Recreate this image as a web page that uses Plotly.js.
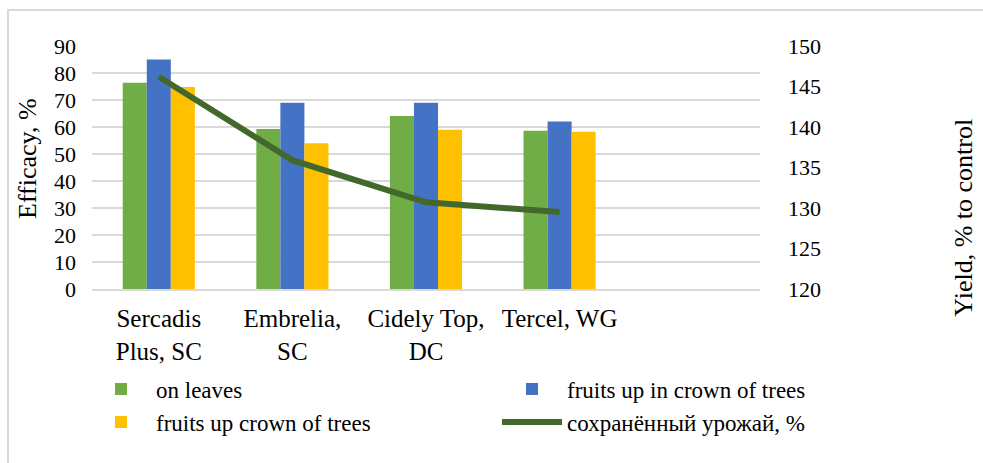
<!DOCTYPE html>
<html>
<head>
<meta charset="utf-8">
<script src="https://cdn.plot.ly/plotly-3.0.1.min.js"></script>
<style>
  html, body { margin: 0; padding: 0; background: #fff; }
  #wrap { position: relative; width: 983px; height: 463px; overflow: hidden; }
  #chart { width: 983px; height: 463px; }
  #frame { position: absolute; left: 7px; top: 9px; width: 1000px; height: 500px;
           border: 2px solid #d9d9d9; pointer-events: none; box-sizing: border-box; }
</style>
</head>
<body>
<div id="wrap">
  <div id="chart"></div>
  <div id="frame"></div>
</div>
<script>
// ---- data ----
const categories = ["Sercadis<br>Plus, SC", "Embrelia,<br>SC", "Cidely Top,<br>DC", "Tercel, WG"];
const onLeaves = [76.4, 59.3, 64.1, 58.6];
const fruitsInCrown = [85, 69, 69, 62];
const fruitsCrown = [74.8, 54, 59, 58.2];
const savedYield = [146.2, 135.9, 130.7, 129.5];
const seriesNames = ["on leaves", "fruits up in crown of trees", "fruits up crown of trees", "сохранённый урожай, %"];
const leftTicks = [0, 10, 20, 30, 40, 50, 60, 70, 80, 90];
const rightTicks = [120, 125, 130, 135, 140, 145, 150];

const FONT = "Liberation Serif, Times New Roman, serif";

const traces = [
  { type: "bar", name: seriesNames[0], x: categories, y: onLeaves,
    marker: { color: "#70AD47" }, legend: "legend" },
  { type: "bar", name: seriesNames[1], x: categories, y: fruitsInCrown,
    marker: { color: "#4472C4" }, legend: "legend2" },
  { type: "bar", name: seriesNames[2], x: categories, y: fruitsCrown,
    marker: { color: "#FFC000" }, legend: "legend" },
  { type: "scatter", mode: "lines", name: seriesNames[3], x: categories, y: savedYield,
    yaxis: "y2", line: { color: "#43682B", width: 6 }, legend: "legend2" }
];

const legendBase = {
  orientation: "v", xref: "container", yref: "container",
  xanchor: "left", yanchor: "top", y: 0.206,
  font: { family: FONT, size: 23, color: "#000" },
  itemwidth: 60, tracegroupgap: 0, traceorder: "normal",
  bgcolor: "rgba(0,0,0,0)"
};

const layout = {
  width: 983, height: 463,
  margin: { l: 92, r: 223, t: 46, b: 174, autoexpand: false },
  paper_bgcolor: "#fff", plot_bgcolor: "#fff",
  font: { family: FONT, size: 22, color: "#000" },
  barmode: "group", bargap: 0.46, bargroupgap: 0,
  showlegend: true,
  xaxis: {
    type: "category", categoryorder: "array", categoryarray: categories,
    range: [-0.5, 4.5], showgrid: false, zeroline: false,
    showline: true, linecolor: "#d9d9d9", linewidth: 2,
    ticks: "", tickfont: { family: FONT, size: 25, color: "#000" }, tickangle: 0,
    ticklabelstandoff: 6, automargin: false
  },
  yaxis: {
    range: [0, 90], tickvals: leftTicks, ticks: "",
    showgrid: true, gridcolor: "#d9d9d9", gridwidth: 2,
    zeroline: false, showline: false,
    tickfont: { family: FONT, size: 22, color: "#000" },
    ticklabelstandoff: 15, automargin: false
  },
  yaxis2: {
    overlaying: "y", side: "right", range: [120, 150], tickvals: rightTicks, ticks: "",
    showgrid: false, zeroline: false, showline: false,
    tickfont: { family: FONT, size: 22, color: "#000" },
    ticklabelstandoff: 27, automargin: false
  },
  legend: Object.assign({}, legendBase, { x: 86 / 983 }),
  legend2: Object.assign({}, legendBase, { x: 497 / 983 }),
  annotations: [
    { text: "Efficacy, %", xref: "paper", yref: "paper", x: -0.0958, y: 0.535,
      xanchor: "center", yanchor: "middle", textangle: -90, showarrow: false,
      font: { family: FONT, size: 26, color: "#000" } },
    { text: "Yield, % to control", xref: "paper", yref: "paper", x: 1.304, y: 0.294,
      xanchor: "center", yanchor: "middle", textangle: -90, showarrow: false,
      font: { family: FONT, size: 26, color: "#000" } }
  ]
};

Plotly.newPlot("chart", traces, layout, { displayModeBar: false, staticPlot: true });
</script>
</body>
</html>
